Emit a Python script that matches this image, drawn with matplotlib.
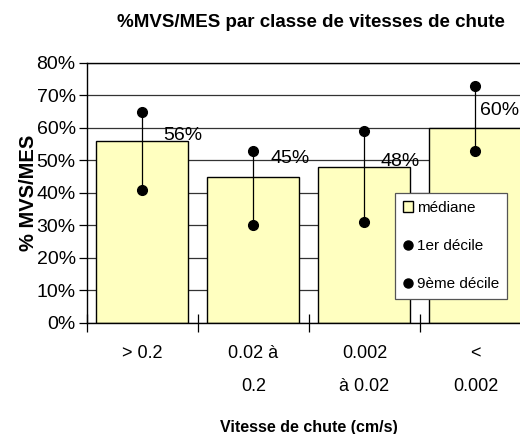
import numpy as np
import matplotlib
matplotlib.use("Agg")
import matplotlib.pyplot as plt
from matplotlib.lines import Line2D
from matplotlib.patches import Patch

plt.rcParams['font.family'] = ['Liberation Sans', 'DejaVu Sans']

# classes de vitesse de chute
classes = ["> 0.2", "0.02 à\n0.2", "0.002\nà 0.02", "<\n0.002"]
mediane = [56, 45, 48, 60]
decile_1 = [41, 30, 31, 53]
decile_9 = [65, 53, 59, 73]

x = np.arange(len(classes))

fig = plt.figure(figsize=(5.2, 4.34), dpi=100)
ax = fig.add_axes([0.167, 0.256, 0.854, 0.599])

ax.bar(x, mediane, width=0.83, color="#FFFFC0", edgecolor="black",
       linewidth=1.0, zorder=2, label="médiane")

# deciles: trait vertical + points
for xi, lo, hi in zip(x, decile_1, decile_9):
    ax.plot([xi, xi], [lo, hi], color="black", lw=0.9, zorder=3)
ax.plot(x, decile_1, "o", color="black", ms=7, zorder=4, label="1er décile")
ax.plot(x, decile_9, "o", color="black", ms=7, zorder=4, label="9ème décile")

# etiquettes des medianes (decalees comme dans le classeur)
dx = [0.36, 0.33, 0.32, 0.22]
dy = [1.8, 5.5, 1.8, 5.5]
for xi, v, ox, oy in zip(x, mediane, dx, dy):
    ax.text(xi + ox, v + oy, f"{v}%", ha="center", va="center",
            fontsize=14, zorder=5)

ax.set_xlim(-0.5, 3.5)
ax.set_ylim(0, 80)
ax.set_yticks(np.arange(0, 81, 10))
ax.set_yticklabels([f"{t}%" for t in range(0, 81, 10)], fontsize=14)
ax.yaxis.grid(True, color="#333333", lw=0.9, zorder=0)
ax.set_axisbelow(True)

ax.set_xticks(x)
ax.set_xticklabels(classes, fontsize=13, linespacing=2.25)
ax.tick_params(axis="x", which="major", length=0, pad=16)
ax.set_xticks(np.arange(-0.5, 3.6, 1), minor=True)
ax.tick_params(axis="x", which="minor", length=13, direction="inout", width=0.9)
ax.tick_params(axis="y", length=6, width=0.9, pad=2)

for s in ax.spines.values():
    s.set_color("black")
    s.set_linewidth(1.0)

ax.set_ylabel("% MVS/MES", fontsize=14.5, fontweight="bold", labelpad=-1)
ax.set_xlabel("Vitesse de chute (cm/s)", fontsize=11.5, fontweight="bold",
              labelpad=18)
fig.text(0.598, 0.948, "%MVS/MES par classe de vitesses de chute",
         ha="center", va="center", fontsize=13.5, fontweight="bold")

handles = [
    Patch(facecolor="#FFFFC0", edgecolor="black", label="médiane"),
    Line2D([], [], marker="o", color="black", ls="none", ms=6.5, label="1er décile"),
    Line2D([], [], marker="o", color="black", ls="none", ms=6.5, label="9ème décile"),
]
leg = ax.legend(handles=handles, loc="upper left",
                bbox_to_anchor=(0.694, 0.5), fontsize=11, frameon=True,
                fancybox=False, handlelength=0.7, handletextpad=0.25,
                labelspacing=1.6, borderpad=0.5, borderaxespad=0)
leg.get_frame().set_edgecolor("#555555")
leg.get_frame().set_linewidth(0.9)
leg.get_frame().set_alpha(1)
leg.set_zorder(6)

fig.savefig("out.png", dpi=100)
